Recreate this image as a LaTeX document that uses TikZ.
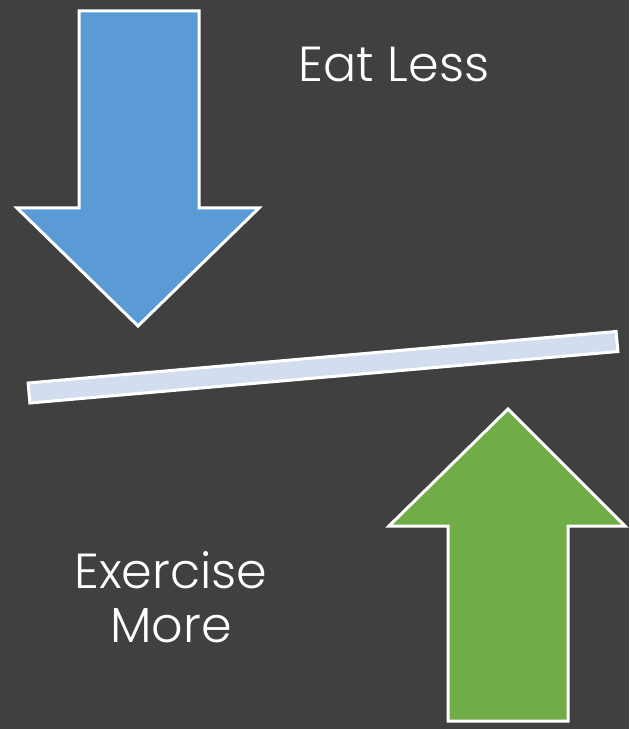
\documentclass[tikz,border=0pt]{standalone}
\usepackage{fontspec}
\setmainfont{Poppins Light}
\usepackage{xcolor}
\usetikzlibrary{positioning}

\definecolor{slide}{RGB}{64,64,64}
\definecolor{downblue}{RGB}{91,155,213}
\definecolor{upgreen}{RGB}{112,173,71}
\definecolor{beam}{RGB}{210,222,239}

\begin{document}
\begin{tikzpicture}[
  x=0.02cm, y=-0.02cm,
  outlined/.style={draw=white, line width=0.06cm, line join=miter},
  caption/.style={text=white, font=\fontsize{28}{31}\selectfont, align=center, inner sep=0pt}
]

% --- background ---
\fill[slide] (0,0) rectangle (629,729);
\useasboundingbox (0,0) rectangle (629,729);

% --- down arrow ---
\draw[outlined, fill=downblue] (79,11) -- (199,11) -- (199,208) -- (259,208)
  -- (138,326) -- (17,208) -- (79,208) -- cycle;

% --- tilted beam ---
\draw[outlined, fill=beam] (29.9,403) -- (28.1,383) -- (616.1,331.5) -- (617.9,351.5) -- cycle;

% --- up arrow ---
\draw[outlined, fill=upgreen] (448,721) -- (568,721) -- (568,526) -- (625,526)
  -- (508,409) -- (389,526) -- (448,526) -- cycle;

% --- texts ---
\node[caption] (eat)      at (394,64)  {Eat Less};
\node[caption] (exercise) at (171,597) {Exercise\\More};

\end{tikzpicture}
\end{document}
